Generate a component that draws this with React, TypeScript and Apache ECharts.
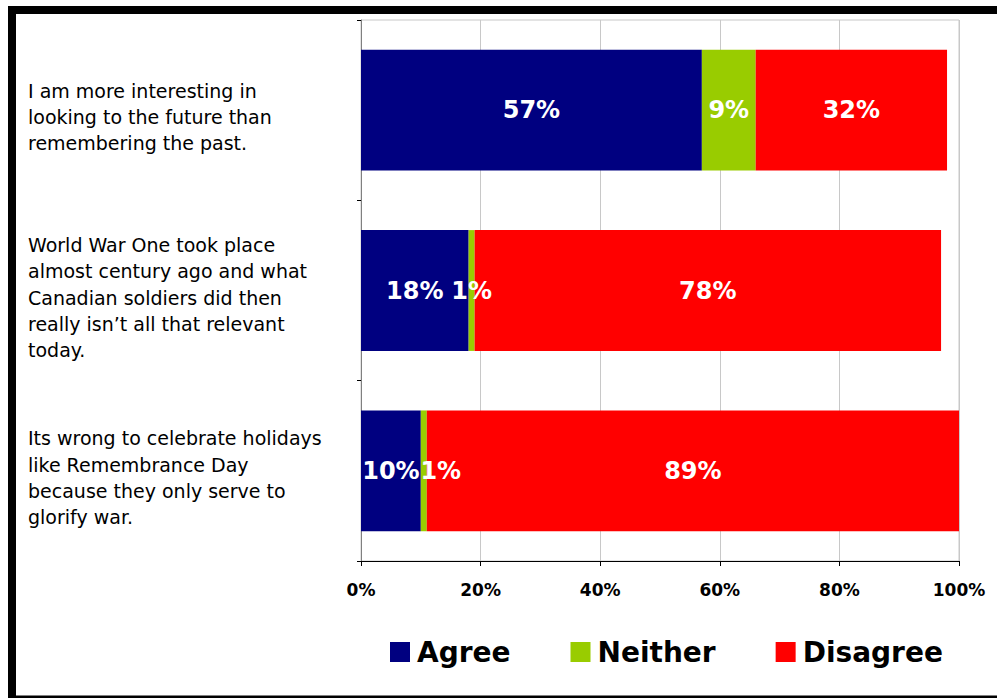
import React, { useEffect, useRef } from "react";
import * as echarts from "echarts";

const categories = [
  "I am more interesting in\nlooking to the future than\nremembering the past.",
  "World War One took place\nalmost century ago and what\nCanadian soldiers did then\nreally isn\u2019t all that relevant\ntoday.",
  "Its wrong to celebrate holidays\nlike Remembrance Day\nbecause they only serve to\nglorify war.",
];
const agree = [57, 18, 10];
const neither = [9, 1, 1];
const disagree = [32, 78, 89];
const xTicks = [0, 20, 40, 60, 80, 100];

const FONT = "DejaVu Sans";

export default function App() {
  const ref = useRef<HTMLDivElement>(null);
  useEffect(() => {
    if (!ref.current) return;
    const chart = echarts.init(ref.current, undefined, { renderer: "svg" });
    const label = {
      show: true,
      position: "inside",
      formatter: "{c}%",
      color: "#fff",
      fontFamily: FONT,
      fontWeight: "bold",
      fontSize: 24,
    };
    const mk = (name: string, data: number[], color: string, extra?: (v: number, i: number) => any) => ({
      name,
      type: "bar",
      stack: "total",
      barCategoryGap: "33%",
      itemStyle: { color },
      label,
      data: data.map((v, i) => (extra ? extra(v, i) : v)),
    });
    chart.setOption({
      animation: false,
      backgroundColor: "#fff",
      grid: {
        left: 361,
        right: 38,
        top: 20,
        bottom: 137,
        show: true,
        borderColor: "#c8c8c8",
        borderWidth: 1,
        backgroundColor: "transparent",
      },
      xAxis: {
        type: "value",
        min: xTicks[0],
        max: xTicks[xTicks.length - 1],
        interval: 20,
        axisLine: { show: true, lineStyle: { color: "#000", width: 1 } },
        axisTick: { show: true, length: 5, lineStyle: { color: "#000" } },
        splitLine: { show: true, lineStyle: { color: "#c8c8c8", width: 1 } },
        axisLabel: {
          formatter: "{value}%",
          margin: 20,
          color: "#000",
          fontFamily: FONT,
          fontWeight: "bold",
          fontSize: 17,
        },
      },
      yAxis: {
        type: "category",
        inverse: true,
        data: categories,
        axisLine: { show: true, lineStyle: { color: "#808080", width: 1 } },
        axisTick: { show: true, length: 4, lineStyle: { color: "#000" } },
        axisLabel: {
          align: "left",
          margin: 333,
          color: "#000",
          fontFamily: FONT,
          fontSize: 19,
          lineHeight: 26.3,
          formatter: (v: string) =>
            "{sp| }\n" + v.split("\n").map((l) => "{t|" + l + "}").join("\n"),
          rich: {
            sp: { height: 14, lineHeight: 14, fontSize: 10 },
            t: { fontFamily: FONT, fontSize: 19, lineHeight: 26.3, color: "#000" },
          },
        },
      },
      legend: {
        left: 390,
        top: 638,
        padding: 0,
        itemWidth: 20,
        itemHeight: 20,
        itemGap: 60,
        icon: "rect",
        textStyle: {
          color: "#000",
          fontFamily: FONT,
          fontWeight: "bold",
          fontSize: 28,
          padding: [0, 0, 0, 2],
        },
        data: ["Agree", "Neither", "Disagree"],
      },
      graphic: [
        {
          type: "rect",
          shape: { x: 12, y: 10, width: 1000, height: 689.5 },
          style: { fill: "none", stroke: "#000", lineWidth: 8 },
          silent: true,
        },
      ],
      series: [
        mk("Agree", agree, "#000080"),
        mk("Neither", neither, "#99CC00", (v, i) =>
          i === 2 ? { value: v, label: { offset: [17, 0] } } : v
        ),
        mk("Disagree", disagree, "#FF0000"),
      ],
    });
    return () => chart.dispose();
  }, []);
  return (
    <div
      ref={ref}
      style={{ position: "fixed", left: 0, top: 0, width: 997, height: 698 }}
    />
  );
}
